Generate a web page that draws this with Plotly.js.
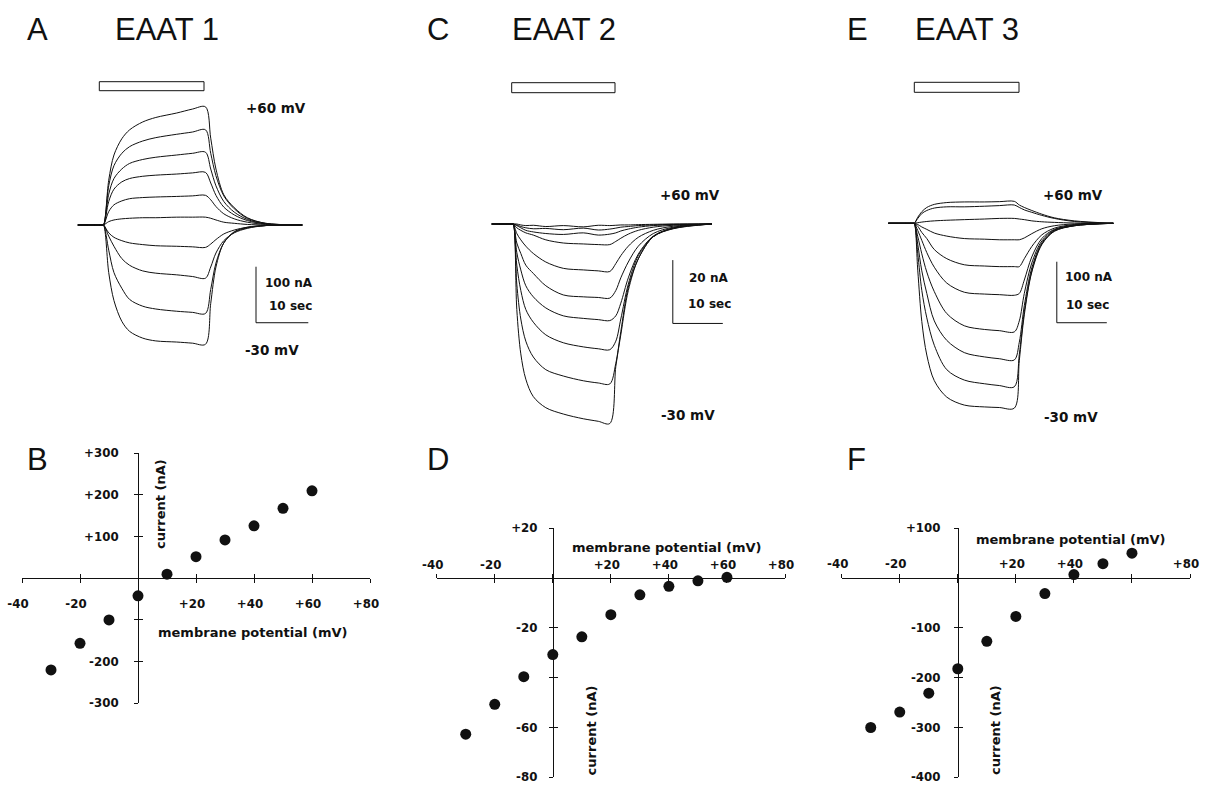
<!DOCTYPE html>
<html><head><meta charset="utf-8">
<script src="https://cdn.plot.ly/plotly-3.0.1.min.js"></script>
<style>html,body{margin:0;padding:0;background:#fff;} #chart{width:1205px;height:788px;}</style>
</head><body><div id="chart"></div>
<script>
// ---------- I-V data (membrane potential mV, current nA) ----------
const potentials = [-30, -20, -10, 0, 10, 20, 30, 40, 50, 60];
const ivEAAT1 = [-220, -156, -100, -42, 10, 52, 92, 126, 168, 210];
const ivEAAT2 = [-62.7, -50.7, -39.6, -30.7, -23.6, -14.7, -6.7, -3.3, -1.1, 0.3];
const ivEAAT3 = [-300, -269, -231, -182, -127, -77, -31, 7, 29, 50];

// ---------- tick labels ----------
const xTickVals = [-40, -20, 0, 20, 40, 60, 80];
const xTickTextBD = ['-40', '-20', '', '+20', '+40', '+60', '+80'];
const xTickTextF = ['-40', '-20', '', '+20', '+40', '', '+80'];
const yTickValsB = [-300, -200, -100, 0, 100, 200, 300];
const yTickTextB = ['-300', '-200', '', '', '+100', '+200', '+300'];
const yTickValsD = [-80, -60, -40, -20, 0, 20];
const yTickTextD = ['-80', '-60', '', '-20', '', '+20'];
const yTickValsF = [-400, -300, -200, -100, 0, 100];
const yTickTextF = ['-400', '-300', '-200', '-100', '', '+100'];

// ---------- current traces (time s, current nA) ----------
// EAAT1
const timeA = [-4.9, -0.3, 0, 1, 2, 3.5, 5, 7.5, 10, 14, 17, 19.5, 20.5, 21.5, 23, 25, 27.5, 31, 38];
const a1_p60 = [0, 0, 0, 80, 125, 154, 170, 184, 192, 200, 207, 211, 155, 100, 54, 31, 13, 3, 0];
const a1_p50 = [0, 0, 0, 70, 106, 128, 140, 150, 156, 162, 166, 170, 128, 88, 52, 29, 12, 3, 0];
const a1_p40 = [0, 0, 0, 55, 83, 100, 110, 117, 121, 125, 128, 130, 100, 70, 42, 23, 10, 2, 0];
const a1_p30 = [0, 0, 0, 42, 64, 77, 83, 87, 89, 91, 93, 94, 75, 53, 32, 18, 8, 2, 0];
const a1_p20 = [0, 0, 0, 24, 36, 43, 47, 49, 50, 51, 52, 53, 45, 33, 20, 11, 5, 1, 0];
const a1_p10 = [0, 0, 0, 6, 9, 11, 12, 13, 13, 14, 14, 14, 12, 9, 5, 3, 1, 0, 0];
const a1_z0 = [0, 0, 0, -14, -22, -28, -32, -35, -37, -38, -39, -40, -34, -26, -16, -9, -4, -1, 0];
const a1_m10 = [0, 0, 0, -20, -38, -60, -72, -82, -86, -89, -92, -95, -75, -50, -28, -14, -6, -1, 0];
const a1_m20 = [0, 0, 0, -45, -85, -113, -133, -145, -150, -154, -156, -158, -115, -68, -32, -13, -5, -1, 0];
const a1_m30 = [0, 0, 0, -85, -135, -172, -190, -202, -207, -209, -211, -213, -140, -75, -32, -12, -4, -1, 0];

// EAAT2
const timeC = [-4.3, -0.2, 0, 0.7, 1.5, 2.5, 4, 6.5, 10, 14, 17, 19.3, 20.5, 21.5, 23, 25, 28, 32, 39.7];
const a2_p60 = [0, 0, 0, 0, -0.3, -0.5, -0.4, -0.8, -0.5, -0.9, -0.4, -0.5, -0.4, -0.3, -0.3, -0.2, -0.1, 0, 0];
const a2_p50 = [0, 0, 0, -0.3, -0.8, -1.2, -1.5, -1.4, -1.8, -1.3, -1.9, -1.6, -1.3, -1, -0.8, -0.5, -0.3, -0.1, 0];
const a2_p40 = [0, 0, 0, -0.5, -1.2, -2, -2.5, -3, -3.3, -2.8, -3.5, -3.2, -2.8, -2.2, -1.6, -1, -0.5, -0.2, 0];
const a2_p30 = [0, 0, 0, -1.2, -2, -2.8, -3.5, -5, -6, -6.3, -6.5, -6.5, -5.5, -4.5, -3.2, -2, -1, -0.4, 0];
const a2_p20 = [0, 0, 0, -3, -5, -7, -9.3, -12, -14, -14.5, -14.8, -15, -12.5, -10, -7, -4.2, -2, -0.7, 0];
const a2_p10 = [0, 0, 0, -6, -9.3, -13, -15.6, -19.5, -22.4, -23, -23.2, -23.4, -21, -17, -12, -7, -3, -1, 0];
const a2_z0 = [0, 0, 0, -9, -14.5, -19.5, -23, -26.5, -29, -29.8, -30.2, -30.5, -29, -25, -17, -9.5, -3.8, -1.2, 0];
const a2_m10 = [0, 0, 0, -13, -21, -27, -31, -35, -37.5, -38.8, -39.4, -39.7, -37, -30, -19, -10, -4, -1.3, 0];
const a2_m20 = [0, 0, 0, -19, -30, -37, -42, -46, -48, -49.5, -50.2, -50.5, -44, -34, -20, -11, -4, -1.4, 0];
const a2_m30 = [0, 0, 0, -27, -41, -49, -54.5, -58, -60, -61.5, -62.3, -63, -45, -35, -21, -11, -4, -1.5, 0];

// EAAT3
const timeE = [-5.2, -0.2, 0, 0.7, 1.5, 2.5, 4, 6.5, 10, 14, 17, 20, 21, 22, 23.5, 25.5, 28, 32, 39.8];
const a3_p60 = [0, 0, 0, 10, 19, 26, 31, 34, 35, 35, 35.5, 36, 30, 26, 21, 15, 9, 4, 0];
const a3_p50 = [0, 0, 0, 8, 16, 21, 25, 27, 27, 28, 29, 30, 26, 22, 18, 13, 8, 3, 0];
const a3_p40 = [0, 0, 0, 1, 2, 3, 4, 5, 6, 7, 8, 8, 7, 6, 4, 2.5, 1.5, 0.5, 0];
const a3_p30 = [0, 0, 0, -2, -6, -10, -16, -21, -25, -26, -27, -27, -27, -24, -17, -9, -4, -1, 0];
const a3_p20 = [0, 0, 0, -5, -15, -25, -43, -58, -68, -70, -71, -71, -71, -58, -38, -19, -8, -2, 0];
const a3_p10 = [0, 0, 0, -12, -28, -48, -72, -98, -113, -116, -117, -118, -115, -93, -55, -25, -10, -3, 0];
const a3_z0 = [0, 0, 0, -22, -50, -80, -112, -148, -168, -174, -176, -178, -160, -115, -65, -29, -11, -3, 0];
const a3_m10 = [0, 0, 0, -35, -78, -115, -160, -192, -212, -219, -222, -224, -195, -135, -73, -32, -12, -4, 0];
const a3_m20 = [0, 0, 0, -50, -110, -155, -200, -240, -257, -263, -266, -268, -215, -145, -78, -34, -13, -4, 0];
const a3_m30 = [0, 0, 0, -78, -161, -216, -258, -285, -298, -301, -302, -303, -225, -150, -80, -35, -13, -4, 0];

const tracesA = [a1_p60, a1_p50, a1_p40, a1_p30, a1_p20, a1_p10, a1_z0, a1_m10, a1_m20, a1_m30];
const tracesC = [a2_p60, a2_p50, a2_p40, a2_p30, a2_p20, a2_p10, a2_z0, a2_m10, a2_m20, a2_m30];
const tracesE = [a3_p60, a3_p50, a3_p40, a3_p30, a3_p20, a3_p10, a3_z0, a3_m10, a3_m20, a3_m30];

// ---------- layout helpers (pixel geometry) ----------
const W = 1205, H = 788;
function hAx(p0, p1, originPx, ppu) {
  return {domain: [p0 / W, p1 / W], range: [(p0 - originPx) / ppu, (p1 - originPx) / ppu],
          visible: false, fixedrange: true};
}
function vAx(p0, p1, originPx, ppu) {
  return {domain: [1 - p1 / H, 1 - p0 / H], range: [(originPx - p1) / ppu, (originPx - p0) / ppu],
          visible: false, fixedrange: true};
}
const INK = '#111';
const tickFont = {family: 'DejaVu Sans', size: 11.8, color: INK, weight: 'bold'};

function zeroPxH(p0, p1, r) { return p0 + (0 - r[0]) / (r[1] - r[0]) * (p1 - p0); }
function zeroPxV(p0, p1, r) { return p1 - (0 - r[0]) / (r[1] - r[0]) * (p1 - p0); }

function ivAxes(xPx, xRange, yPx, yRange, xVals, xText, yVals, yText, xSide, xStand, yStand) {
  const zx = zeroPxH(xPx[0], xPx[1], xRange);
  const zy = zeroPxV(yPx[0], yPx[1], yRange);
  const xd = [xPx[0] / W, xPx[1] / W];
  const yd = [1 - yPx[1] / H, 1 - yPx[0] / H];
  const common = {showgrid: false, zeroline: false, fixedrange: true, tickcolor: INK, tickwidth: 1, ticklen: 4};
  const xa = Object.assign({}, common, {domain: xd, range: xRange, anchor: 'free', position: 1 - zy / H,
    side: xSide, showline: true, linecolor: INK, linewidth: 1, ticks: 'outside', tickmode: 'array',
    tickvals: xVals, ticktext: xText, tickfont: tickFont, ticklabelstandoff: xStand, ticklabelshift: -4});
  const ya = Object.assign({}, common, {domain: yd, range: yRange, anchor: 'free', position: zx / W,
    side: 'left', showline: true, linecolor: INK, linewidth: 1, ticks: 'outside', tickmode: 'array',
    tickvals: yVals, ticktext: yText, tickfont: tickFont, ticklabelstandoff: yStand});
  const xo = Object.assign({}, common, {range: xRange, anchor: 'free', position: 1 - zy / H, side: xSide,
    showline: false, ticks: 'inside', tickmode: 'array', tickvals: xVals, showticklabels: false});
  const yo = Object.assign({}, common, {range: yRange, anchor: 'free', position: zx / W, side: 'left',
    showline: false, ticks: 'inside', tickmode: 'array', tickvals: yVals, showticklabels: false});
  return {xa, ya, xo, yo};
}

const B = ivAxes([22, 370], [-40, 80], [453.3, 703.3], [-300, 300], xTickVals, xTickTextBD, yTickValsB, yTickTextB, 'bottom', 11, 13);
const D = ivAxes([436.7, 785], [-40, 80], [528.3, 777.3], [-80, 20], xTickVals, xTickTextBD, yTickValsD, yTickTextD, 'top', 0, 9);
const F = ivAxes([841.7, 1190], [-40, 80], [528.3, 777.3], [-400, 100], xTickVals, xTickTextF, yTickValsF, yTickTextF, 'top', 1, 11);
B.xo.overlaying = 'x4'; B.yo.overlaying = 'y4';
D.xo.overlaying = 'x5'; D.yo.overlaying = 'y5';
F.xo.overlaying = 'x6'; F.yo.overlaying = 'y6';

// ---------- traces ----------
const data = [];
function addTraces(t, list, xa, ya) {
  list.forEach(v => data.push({type: 'scatter', mode: 'lines', x: t, y: v, xaxis: xa, yaxis: ya,
    line: {color: INK, width: 1, shape: 'spline', smoothing: 0.9}, cliponaxis: false, hoverinfo: 'skip'}));
}
addTraces(timeA, tracesA, 'x', 'y');
addTraces(timeC, tracesC, 'x2', 'y2');
addTraces(timeE, tracesE, 'x3', 'y3');
[[ivEAAT1, 'x4', 'y4'], [ivEAAT2, 'x5', 'y5'], [ivEAAT3, 'x6', 'y6']].forEach(([v, xa, ya]) =>
  data.push({type: 'scatter', mode: 'markers', x: potentials, y: v, xaxis: xa, yaxis: ya,
    marker: {color: INK, size: 11}, cliponaxis: false, hoverinfo: 'skip'}));
[['x7', 'y7'], ['x8', 'y8'], ['x9', 'y9']].forEach(([xa, ya]) =>
  data.push({type: 'scatter', mode: 'markers', x: [], y: [], xaxis: xa, yaxis: ya, hoverinfo: 'skip'}));

// ---------- annotations ----------
function txt(text, px, py, size, opts) {
  return Object.assign({text: text, x: px / W, y: 1 - py / H, xref: 'paper', yref: 'paper', showarrow: false,
    xanchor: 'center', yanchor: 'middle',
    font: {family: 'DejaVu Sans', size: size, color: INK, weight: 'bold'}}, opts || {});
}
const bigFont = {family: 'Liberation Sans, Arial, sans-serif', size: 31, color: INK};
const annotations = [
  txt('A', 37, 29, 31, {font: bigFont}),
  txt('EAAT 1', 113, 29, 31, {font: bigFont, xanchor: 'left'}),
  txt('C', 437.5, 29, 31, {font: bigFont}),
  txt('EAAT 2', 510, 29, 31, {font: bigFont, xanchor: 'left'}),
  txt('E', 857, 29, 31, {font: bigFont}),
  txt('EAAT 3', 913, 29, 31, {font: bigFont, xanchor: 'left'}),
  txt('B', 37, 459, 31, {font: bigFont}),
  txt('D', 437.5, 459, 31, {font: bigFont}),
  txt('F', 856, 459, 31, {font: bigFont}),
  txt('+60 mV', 275.5, 108, 13.5), txt('-30 mV', 271.5, 350, 13.5),
  txt('100 nA', 289, 283.3, 12), txt('10 sec', 290, 306, 12),
  txt('+60 mV', 690, 195, 13.5), txt('-30 mV', 687.5, 415, 13.5),
  txt('20 nA', 708, 277.7, 12), txt('10 sec', 709, 304.3, 12),
  txt('+60 mV', 1073, 195, 13.5), txt('-30 mV', 1071, 416.7, 13.5),
  txt('100 nA', 1089, 277.3, 12), txt('10 sec', 1087.5, 305, 12),
  txt('membrane potential (mV)', 252, 632, 13), txt('current (nA)', 160, 504, 13, {textangle: -90}),
  txt('membrane potential (mV)', 666.7, 547.3, 13), txt('current (nA)', 591.7, 730.7, 13, {textangle: -90}),
  txt('membrane potential (mV)', 1070.7, 539, 13), txt('current (nA)', 995, 730, 13, {textangle: -90})
];

// ---------- shapes: application bars and scale bars ----------
function pxRect(x0, x1, y0, y1) {
  return {type: 'rect', xref: 'paper', yref: 'paper', x0: x0 / W, x1: x1 / W, y0: 1 - y1 / H, y1: 1 - y0 / H,
    line: {color: INK, width: 1}, fillcolor: 'rgba(0,0,0,0)'};
}
function seg(xr, yr, x0, y0, x1, y1) {
  return {type: 'line', xref: xr, yref: yr, x0: x0, y0: y0, x1: x1, y1: y1, line: {color: INK, width: 1}};
}
const shapes = [
  pxRect(99.3, 204, 81.7, 90.7), pxRect(511.7, 615, 82.7, 92.7), pxRect(914.3, 1019, 82.3, 92.3),
  seg('x', 'y', 29.16, -74.5, 29.16, -174.5), seg('x', 'y', 29.16, -174.5, 39.16, -174.5),
  seg('x2', 'y2', 31.9, -11.4, 31.9, -31.4), seg('x2', 'y2', 31.9, -31.4, 41.9, -31.4),
  seg('x3', 'y3', 28.5, -63, 28.5, -163), seg('x3', 'y3', 28.5, -163, 38.5, -163)
];

const layout = {
  width: W, height: H, margin: {l: 0, r: 0, t: 0, b: 0, pad: 0},
  paper_bgcolor: '#fff', plot_bgcolor: 'rgba(0,0,0,0)', showlegend: false, hovermode: false,
  xaxis: hAx(60, 330, 103.5, 5.23), yaxis: vAx(60, 380, 225, 0.56),
  xaxis2: hAx(470, 745, 513.3, 5.0), yaxis2: vAx(60, 440, 224, 3.167),
  xaxis3: hAx(870, 1130, 914.3, 5.0), yaxis3: vAx(60, 440, 223.3, 0.61),
  xaxis4: B.xa, yaxis4: B.ya, xaxis7: B.xo, yaxis7: B.yo,
  xaxis5: D.xa, yaxis5: D.ya, xaxis8: D.xo, yaxis8: D.yo,
  xaxis6: F.xa, yaxis6: F.ya, xaxis9: F.xo, yaxis9: F.yo,
  annotations: annotations, shapes: shapes
};
layout.yaxis.anchor = 'x'; layout.yaxis2.anchor = 'x2'; layout.yaxis3.anchor = 'x3';
layout.xaxis.anchor = 'y'; layout.xaxis2.anchor = 'y2'; layout.xaxis3.anchor = 'y3';

Plotly.newPlot('chart', data, layout, {staticPlot: true, displayModeBar: false});
</script></body></html>
